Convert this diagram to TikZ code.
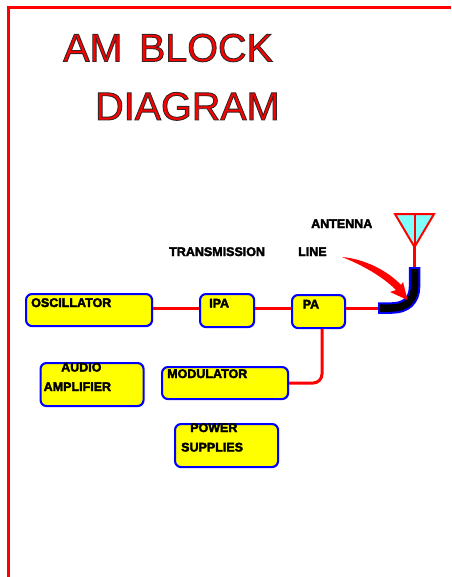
\documentclass[tikz,border=0pt]{standalone}
\usepackage{fontspec}
\setmainfont{Liberation Sans}
\definecolor{rred}{RGB}{255,0,0}
\definecolor{rblue}{RGB}{0,0,255}
\definecolor{ryellow}{RGB}{255,255,0}
\definecolor{rcyan}{RGB}{128,255,255}
\newcommand{\outlinedtext}[1]{\special{pdf:code q 2 Tr 0.9 w 0.2 0.15 0.15 RG}#1\special{pdf:code Q}}
\newcommand{\heavytext}[1]{\special{pdf:code q 2 Tr 0.35 w 0 0 0 RG}#1\special{pdf:code Q}}
\tikzset{
  x=1pt,y=-1pt,
  blockbox/.style={draw=rblue,line width=2.1pt,fill=ryellow,rounded corners=6pt,inner sep=0pt,anchor=north west},
  blocktext/.style={inner sep=0pt,anchor=base west,font=\fontsize{12.5}{14}\selectfont\bfseries,text=black},
  titletext/.style={inner sep=0pt,anchor=base west,font=\fontsize{39.5}{44}\selectfont,text=rred},
  wire/.style={draw=rred,line width=3pt},
  frameline/.style={draw=rred,line width=3pt}
}
\begin{document}
\begin{tikzpicture}
\useasboundingbox (0,0) rectangle (451,577);
% frame
\coordinate (fa) at (8.5,577);
\coordinate (fb) at (8.5,8);
\coordinate (fc) at (451,8);
\draw[frameline] (fa) -- (fb) -- (fc);
% title
\node[titletext] (title1) at (63,61.5) {\outlinedtext{AM\hspace{0.42em}BLOCK}};
\node[titletext] (title2) at (95,120) {\outlinedtext{DIAGRAM}};
% blocks
\node[blockbox,minimum width=126pt,minimum height=32pt] (osc) at (25,293) {};
\node[blockbox,minimum width=54pt,minimum height=33pt] (ipa) at (199,293) {};
\node[blockbox,minimum width=53pt,minimum height=33pt] (pa) at (291,294) {};
\node[blockbox,minimum width=103pt,minimum height=43pt] (audio) at (39.5,362) {};
\node[blockbox,minimum width=126pt,minimum height=32pt] (mod) at (161,366) {};
\node[blockbox,minimum width=103pt,minimum height=43pt] (power) at (174,423) {};
% block labels
\node[blocktext] (tosc) at (31,307) {\heavytext{OSCILLATOR}};
\node[blocktext] (tipa) at (209,307.5) {\heavytext{IPA}};
\node[blocktext] (tpa) at (302.5,308.5) {\heavytext{PA}};
\node[blocktext] (taudio) at (61,371.5) {\heavytext{AUDIO}};
\node[blocktext] (tamp) at (43.5,391) {\heavytext{AMPLIFIER}};
\node[blocktext] (tmod) at (167,378) {\heavytext{MODULATOR}};
\node[blocktext] (tpower) at (190,432) {\heavytext{POWER}};
\node[blocktext] (tsup) at (181,451.5) {\heavytext{SUPPLIES}};
\node[blocktext] (tant) at (311,228) {\heavytext{ANTENNA}};
\node[blocktext] (ttrans) at (169,256) {\heavytext{TRANSMISSION}};
\node[blocktext] (tline) at (298,256) {\heavytext{LINE}};
% cable points
\coordinate (wy) at (0,308);
\coordinate (cabL) at (378,308);
\coordinate (cabT) at (414.5,267);
\coordinate (apex) at (414.5,247);
\coordinate (antTop) at (414.5,214);
\coordinate (antL) at (395,214);
\coordinate (antR) at (434,214);
\coordinate (modx) at (322,0);
% connectors
\draw[wire] (osc.east |- wy) -- (ipa.west |- wy);
\draw[wire] (ipa.east |- wy) -- (pa.west |- wy);
\draw[wire] (pa.east |- wy) -- (cabL);
\draw[wire,rounded corners=9pt] (modx |- pa.south) -- (modx |- mod.east) -- (mod.east);
% antenna
\draw[draw=rred,line width=2pt,fill=rcyan,line join=miter] (antL) -- (antR) -- (apex) -- cycle;
\draw[wire,line width=2pt] (antTop) -- (apex);
\draw[wire] (apex) -- (cabT);
% transmission line
\draw[draw=rblue,line width=11.5pt] (cabL) -- (392,308) .. controls (406,308) and (414.5,300) .. (414.5,287) -- (cabT);
\draw[draw=black,line width=7.5pt,shorten <=2pt,shorten >=2pt] (cabL) -- (392,308) .. controls (406,308) and (414.5,300) .. (414.5,287) -- (cabT);
% pointer
\coordinate (ptrS) at (342,257);
\coordinate (ptrT) at (407.5,300);
\fill[rred] (ptrS) .. controls (365,259) and (388,271) .. (401,285) -- (403,282) -- (ptrT) -- (390,292) -- (396,290) .. controls (382,276) and (362,265) .. (ptrS) -- cycle;
\end{tikzpicture}
\end{document}
